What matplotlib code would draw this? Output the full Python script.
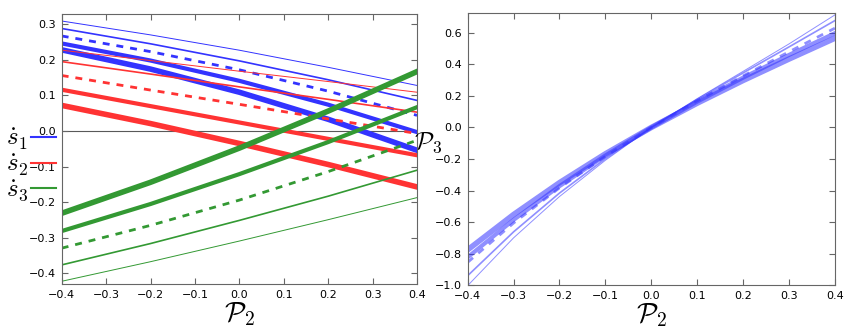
import matplotlib
matplotlib.use('Agg')
import matplotlib.pyplot as plt
from matplotlib.lines import Line2D

plt.rcParams['mathtext.fontset'] = 'cm'
plt.rcParams['font.family'] = ['DejaVu Sans']

p2 = [-0.4, -0.2, 0.0, 0.2, 0.4]

# left panel: s-dot rates, five cases each (thin, medium, dashed, thick, thicker)
s1 = [
    [0.309, 0.270, 0.227, 0.179, 0.128],
    [0.288, 0.245, 0.197, 0.144, 0.086],
    [0.267, 0.223, 0.172, 0.112, 0.044],
    [0.246, 0.198, 0.141, 0.074, -0.003],
    [0.228, 0.174, 0.109, 0.033, -0.054],
]
s2 = [
    [0.227, 0.198, 0.168, 0.139, 0.109],
    [0.195, 0.160, 0.124, 0.089, 0.053],
    [0.156, 0.115, 0.075, 0.034, -0.007],
    [0.116, 0.070, 0.024, -0.022, -0.068],
    [0.072, 0.021, -0.035, -0.094, -0.157],
]
s3 = [
    [-0.422, -0.367, -0.309, -0.249, -0.187],
    [-0.376, -0.316, -0.251, -0.183, -0.110],
    [-0.329, -0.265, -0.194, -0.114, -0.026],
    [-0.281, -0.205, -0.121, -0.031, 0.067],
    [-0.231, -0.144, -0.048, 0.056, 0.167],
]

# right panel: P3 against P2
p2_r = [-0.4, -0.3, -0.2, -0.1, 0.0, 0.1, 0.2, 0.3, 0.4]
p3 = [
    [-1.003, -0.700, -0.438, -0.208, 0.0, 0.183, 0.356, 0.530, 0.714],
    [-0.940, -0.662, -0.416, -0.198, 0.0, 0.178, 0.346, 0.511, 0.678],
    [-0.855, -0.606, -0.383, -0.183, 0.0, 0.169, 0.327, 0.480, 0.630],
    [-0.823, -0.586, -0.372, -0.178, 0.0, 0.164, 0.316, 0.460, 0.598],
    [-0.776, -0.552, -0.350, -0.167, 0.0, 0.154, 0.298, 0.434, 0.566],
]

styles = [
    dict(lw=0.7, ls='-'),
    dict(lw=1.2, ls='-'),
    dict(lw=2.0, ls=(0, (2.5, 2.5))),
    dict(lw=3.0, ls='-'),
    dict(lw=4.0, ls='-'),
]
colors = {'s1': '#3333ff', 's2': '#ff3333', 's3': '#339933'}

fig = plt.figure(figsize=(8.45, 3.3), dpi=100)
ax1 = fig.add_axes([0.073, 0.139, 0.4205, 0.82])
ax2 = fig.add_axes([0.5535, 0.136, 0.4345, 0.824])

ax1.axhline(0, color='0.35', lw=0.8, zorder=1)
for name, data in [('s1', s1), ('s2', s2), ('s3', s3)]:
    for ys, st in zip(data, styles):
        ax1.plot(p2, ys, color=colors[name], lw=st['lw'], ls=st['ls'], zorder=2)

for ys, st in zip(p3, styles):
    ax2.plot(p2_r, ys, color='#3333ff', alpha=0.55, lw=st['lw'], ls=st['ls'])

ax1.set_xlim(-0.4, 0.4)
ax1.set_ylim(-0.43, 0.33)
ax1.set_xticks([-0.4, -0.3, -0.2, -0.1, 0.0, 0.1, 0.2, 0.3, 0.4])
ax1.set_yticks([-0.4, -0.3, -0.2, -0.1, 0.0, 0.1, 0.2, 0.3])

ax2.set_xlim(-0.4, 0.4)
ax2.set_ylim(-1.0, 0.725)
ax2.set_xticks([-0.4, -0.3, -0.2, -0.1, 0.0, 0.1, 0.2, 0.3, 0.4])
ax2.set_yticks([-1.0, -0.8, -0.6, -0.4, -0.2, 0.0, 0.2, 0.4, 0.6])

for ax in (ax1, ax2):
    ax.tick_params(direction='in', top=True, right=True, labelsize=8,
                   length=4, color='0.4', pad=4)
    for sp in ax.spines.values():
        sp.set_color('0.4')
    ax.set_xlabel(r'$\mathcal{P}_2$', fontsize=20, labelpad=0)

ax2.set_ylabel(r'$\mathcal{P}_3$', fontsize=18, rotation=0, va='center', ha='right')
ax2.yaxis.set_label_coords(-0.07, 0.523)

handles = [Line2D([], [], color=colors[k], lw=1.5) for k in ('s1', 's2', 's3')]
fig.legend(handles, [r'$\dot{s}_1$', r'$\dot{s}_2$', r'$\dot{s}_3$'],
           loc='center left', bbox_to_anchor=(-0.008, 0.5), frameon=False,
           markerfirst=False, fontsize=18, handlelength=1.0, handletextpad=0.1,
           labelspacing=0.0, borderpad=0)

fig.savefig('out.png', dpi=100)
